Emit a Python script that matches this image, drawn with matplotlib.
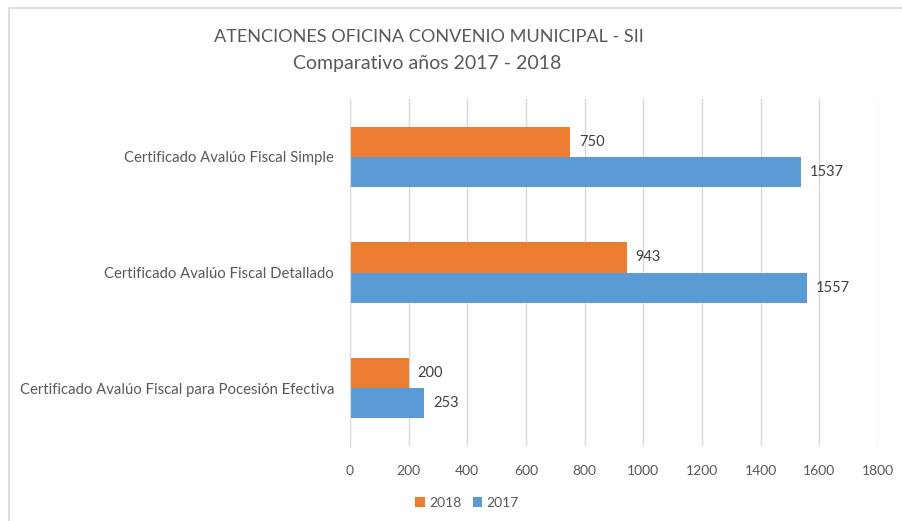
import matplotlib
matplotlib.use("Agg")
import matplotlib.pyplot as plt
from matplotlib.patches import Rectangle
import numpy as np

categories = ["Certificado Avalúo Fiscal Simple",
              "Certificado Avalúo Fiscal Detallado",
              "Certificado Avalúo Fiscal para Pocesión Efectiva"]
values_2018 = [750, 943, 200]
values_2017 = [1537, 1557, 253]
xticks = [0, 200, 400, 600, 800, 1000, 1200, 1400, 1600, 1800]

plt.rcParams['font.family'] = ['Lato', 'DejaVu Sans']
txt = '#595959'
c18 = '#ED7D31'
c17 = '#5B9BD5'

fig = plt.figure(figsize=(9.03, 5.21), dpi=100)
W, H = 903, 521
ax = fig.add_axes([350 / W, 1 - 446 / H, 528 / W, (446 - 99) / H])

n = len(categories)
y = np.arange(n)
h = 0.26
ax.barh(y - h / 2, values_2018, height=h, color=c18, label='2018', zorder=3)
ax.barh(y + h / 2, values_2017, height=h, color=c17, label='2017', zorder=3)
ax.set_ylim(n - 0.5, -0.5)
ax.set_xlim(0, 1800)
ax.set_xticks(xticks)
ax.set_xticklabels([str(t) for t in xticks], color=txt, fontsize=10)
ax.set_yticks(y)
ax.set_yticklabels(categories, color=txt, fontsize=10.7)
ax.tick_params(axis='both', length=0)
ax.tick_params(axis='y', pad=11.5)
ax.tick_params(axis='x', pad=14)
ax.grid(axis='x', color='#d9d9d9', linewidth=1, zorder=0)
for s in ['top', 'right', 'bottom']:
    ax.spines[s].set_visible(False)
ax.spines['left'].set_color('#d9d9d9')
ax.spines['left'].set_zorder(4)

for yi, v in zip(y - h / 2, values_2018):
    ax.text(v + 30, yi, str(v), va='center', ha='left', color='#404040', fontsize=10.5)
for yi, v in zip(y + h / 2, values_2017):
    ax.text(v + 30, yi, str(v), va='center', ha='left', color='#404040', fontsize=10.5)

fig.text(428.5 / W, 1 - 37 / H, "ATENCIONES OFICINA CONVENIO MUNICIPAL - SII",
         ha='center', va='center', color=txt, fontsize=13.1)
fig.text(427 / W, 1 - 63 / H, "Comparativo años 2017 - 2018",
         ha='center', va='center', color=txt, fontsize=14)

leg = fig.legend(loc='center', bbox_to_anchor=(467 / W, 1 - 503 / H), ncol=2,
                 frameon=False, fontsize=10, handlelength=0.7, handleheight=0.7,
                 handletextpad=0.3, columnspacing=0.8)
for t in leg.get_texts():
    t.set_color(txt)

fig.patches.append(Rectangle((9 / W, -0.1), 1.2, 1 - 8 / H + 0.1,
                             transform=fig.transFigure, fill=False,
                             edgecolor='#d9d9d9', linewidth=1.2))

fig.savefig('out.png', dpi=100)
